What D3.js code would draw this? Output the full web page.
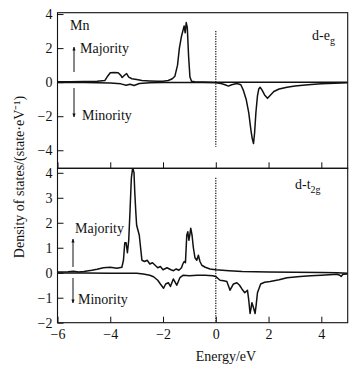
<!DOCTYPE html>
<html>
<head>
<meta charset="utf-8">
<script src="https://cdn.jsdelivr.net/npm/d3@7/dist/d3.min.js"></script>
<style>
  body { margin: 0; background: #fff; }
  svg text { font-family: "Liberation Serif", "Times New Roman", serif; fill: #111; }
</style>
</head>
<body>
<svg id="chart" width="354" height="375"></svg>
<script>
// d-eg, spin up
const egUpE = [-6, -5.5, -5, -4.5, -4.2, -4.1, -4.0, -3.85, -3.7, -3.6, -3.55, -3.45, -3.38, -3.3, -3.18, -3.0, -2.8, -2.5, -2.2, -2.0, -1.8, -1.65, -1.55, -1.45, -1.38, -1.3, -1.25, -1.2, -1.16, -1.12, -1.08, -1.03, -0.98, -0.92, -0.8, -0.5, 0, 1, 2, 3, 4, 5];
const egUpV = [0.02, 0.03, 0.04, 0.05, 0.1, 0.35, 0.55, 0.57, 0.55, 0.4, 0.27, 0.42, 0.5, 0.3, 0.2, 0.15, 0.1, 0.07, 0.05, 0.05, 0.1, 0.2, 0.35, 1.0, 2.0, 2.7, 3.0, 3.3, 2.9, 3.5, 3.2, 1.5, 0.3, 0.05, 0.02, 0.01, 0, 0, 0, 0, 0, 0];
// d-eg, spin down
const egDnE = [-6, -5, -4.5, -4, -3.6, -3.4, -3.25, -3.1, -2.9, -2.5, -2, -1.5, -1, -0.5, 0, 0.2, 0.35, 0.48, 0.6, 0.8, 0.95, 1.05, 1.15, 1.25, 1.33, 1.38, 1.43, 1.47, 1.52, 1.58, 1.63, 1.68, 1.75, 1.85, 1.96, 2.05, 2.2, 2.4, 2.7, 3.0, 3.5, 4.0, 4.5, 5];
const egDnV = [-0.02, -0.02, -0.03, -0.05, -0.1, -0.18, -0.12, -0.2, -0.08, -0.04, -0.02, -0.02, -0.02, -0.02, -0.03, -0.08, -0.15, -0.23, -0.15, -0.08, -0.15, -0.5, -1.0, -1.8, -2.8, -3.3, -3.6, -3.0, -1.8, -0.8, -0.4, -0.3, -0.45, -0.75, -0.95, -0.8, -0.55, -0.4, -0.3, -0.22, -0.15, -0.1, -0.06, -0.04];
// d-t2g, spin up
const t2gUpE = [-6, -5.6, -5.4, -5.2, -5.0, -4.7, -4.5, -4.26, -4.0, -3.75, -3.56, -3.5, -3.45, -3.4, -3.35, -3.3, -3.25, -3.2, -3.15, -3.1, -3.07, -3.03, -3.0, -2.95, -2.9, -2.85, -2.8, -2.7, -2.6, -2.5, -2.4, -2.3, -2.2, -2.1, -2.0, -1.85, -1.7, -1.6, -1.5, -1.4, -1.3, -1.25, -1.2, -1.15, -1.1, -1.06, -1.02, -0.98, -0.95, -0.9, -0.85, -0.79, -0.72, -0.66, -0.6, -0.53, -0.4, -0.22, 0, 0.5, 1, 2, 3, 4, 4.6, 5];
const t2gUpV = [0.03, 0.04, 0.06, 0.03, 0.05, 0.1, 0.14, 0.2, 0.22, 0.18, 0.22, 0.5, 1.2, 1.2, 0.8, 1.3, 2.5, 3.8, 4.2, 4.0, 3.2, 2.4, 1.9, 1.7, 1.5, 1.0, 0.5, 0.45, 0.5, 0.35, 0.4, 0.3, 0.2, 0.25, 0.12, 0.2, 0.12, 0.08, 0.15, 0.1, 0.2, 0.35, 0.45, 0.4, 1.5, 1.64, 1.3, 1.55, 1.78, 1.5, 1.0, 0.6, 0.5, 0.7, 0.45, 0.3, 0.22, 0.15, 0.12, 0.08, 0.05, 0.03, 0.02, 0.01, 0, -0.02];
// d-t2g, spin down
const t2gDnE = [-6, -5, -4, -3, -2.75, -2.5, -2.36, -2.2, -2.1, -1.98, -1.9, -1.8, -1.72, -1.61, -1.48, -1.36, -1.23, -1.0, -0.7, -0.4, -0.12, 0, 0.16, 0.3, 0.42, 0.54, 0.67, 0.8, 0.9, 0.99, 1.1, 1.2, 1.25, 1.3, 1.34, 1.37, 1.43, 1.49, 1.53, 1.58, 1.7, 1.85, 2.06, 2.4, 2.7, 3.2, 3.6, 4.0, 4.3, 4.6, 4.7, 4.75, 4.82, 5];
const t2gDnV = [-0.01, -0.01, -0.02, -0.02, -0.05, -0.1, -0.16, -0.3, -0.45, -0.62, -0.45, -0.4, -0.55, -0.25, -0.5, -0.2, -0.1, -0.12, -0.1, -0.1, -0.12, -0.15, -0.3, -0.32, -0.35, -0.7, -0.45, -0.4, -0.5, -0.65, -0.8, -0.7, -1.1, -1.63, -1.4, -1.2, -1.4, -1.63, -1.3, -0.8, -0.45, -0.38, -0.35, -0.28, -0.2, -0.15, -0.12, -0.1, -0.08, -0.06, -0.1, -0.15, -0.06, -0.05];

const xTicks = [-6, -4, -2, 0, 2, 4];
const egTicks = [-4, -2, 0, 2, 4];
const t2gTicks = [-2, -1, 0, 1, 2, 3, 4];

const svg = d3.select("#chart");
const x = d3.scaleLinear().domain([-6, 5]).range([57.5, 347.7]);
const fmt = d3.format("d");

const panels = [
	{ id: "eg", y: d3.scaleLinear().domain([-5.06, 4.08]).range([168.3, 12.7]), ticks: egTicks,
		up: [egUpE, egUpV], dn: [egDnE, egDnV], dotFrom: 3.0, dotTo: -3.8 },
	{ id: "t2g", y: d3.scaleLinear().domain([-2, 4.18]).range([322.7, 168.3]), ticks: t2gTicks,
		up: [t2gUpE, t2gUpV], dn: [t2gDnE, t2gDnV], dotFrom: 3.8, dotTo: -2 }
];

const fs = 14;

panels.forEach((p, i) => {
	const g = svg.append("g").attr("class", "panel-" + p.id);
	const [y0, y1] = p.y.range();

	g.append("clipPath").attr("id", "clip-" + p.id)
		.append("rect").attr("x", x.range()[0]).attr("y", y1)
		.attr("width", x.range()[1] - x.range()[0]).attr("height", y0 - y1);

	// frame
	g.append("rect")
		.attr("x", x.range()[0]).attr("y", y1)
		.attr("width", x.range()[1] - x.range()[0]).attr("height", y0 - y1)
		.attr("fill", "none").attr("stroke", "#111").attr("stroke-width", 1.1);

	// y axis
	const ya = g.append("g").attr("transform", `translate(${x.range()[0]},0)`)
		.call(d3.axisLeft(p.y).tickValues(p.ticks).tickFormat(fmt).tickSizeInner(-6).tickSizeOuter(0).tickPadding(5));
	ya.select(".domain").remove();
	ya.selectAll("line").attr("stroke", "#111");
	ya.selectAll("text").style("font-size", fs + "px");

	// x axis (ticks inward, labels only on bottom panel)
	const xa = g.append("g").attr("transform", `translate(0,${y0})`)
		.call(d3.axisBottom(x).tickValues(xTicks).tickFormat(fmt).tickSizeInner(-6).tickSizeOuter(0).tickPadding(6));
	xa.select(".domain").remove();
	xa.selectAll("line").attr("stroke", "#111");
	xa.selectAll("text").style("font-size", fs + "px");
	if (i === 0) xa.selectAll("text").remove();

	// Fermi level
	g.append("line")
		.attr("x1", x(0)).attr("x2", x(0))
		.attr("y1", p.y(p.dotFrom)).attr("y2", p.y(p.dotTo))
		.attr("stroke", "#111").attr("stroke-width", 1.2).attr("stroke-dasharray", "1.2,1.3");

	const line = d3.line().x(d => x(d[0])).y(d => p.y(d[1]));
	[p.up, p.dn].forEach(s => {
		g.append("path")
			.datum(d3.zip(s[0], s[1]))
			.attr("clip-path", `url(#clip-${p.id})`)
			.attr("d", line)
			.attr("fill", "none").attr("stroke", "#111")
			.attr("stroke-width", 1.5).attr("stroke-linejoin", "round");
	});
});

// arrows
svg.append("defs").append("marker")
	.attr("id", "ah").attr("viewBox", "0 0 10 10").attr("refX", 9).attr("refY", 5)
	.attr("markerWidth", 4).attr("markerHeight", 6).attr("orient", "auto")
	.append("path").attr("d", "M0,1 L10,5 L0,9 Z").attr("fill", "#111");

const arrows = [
	[74, 72, 74, 47], [74, 88, 74, 117],
	[73, 267, 73, 239], [73, 278, 73, 303]
];
arrows.forEach(a => {
	svg.append("line").attr("x1", a[0]).attr("y1", a[1]).attr("x2", a[2]).attr("y2", a[3])
		.attr("stroke", "#111").attr("stroke-width", 1).attr("marker-end", "url(#ah)");
});

const labels = [
	["Majority", 80, 53], ["Minority", 82, 120],
	["Majority", 75, 233], ["Minority", 78, 304]
];
labels.forEach(l => {
	svg.append("text").attr("x", l[1]).attr("y", l[2]).style("font-size", "14px").text(l[0]);
});

svg.append("text").attr("x", 70).attr("y", 30).style("font-size", "14px").text("Mn");

const deg = svg.append("text").attr("x", 312).attr("y", 40).style("font-size", "14px");
deg.append("tspan").text("d-e");
deg.append("tspan").attr("dy", 4).style("font-size", "10px").text("g");

const dt = svg.append("text").attr("x", 295).attr("y", 189).style("font-size", "14px");
dt.append("tspan").text("d-t");
dt.append("tspan").attr("dy", 4).style("font-size", "10px").text("2g");

// axis titles
svg.append("text")
	.attr("transform", "translate(24,177) rotate(-90)")
	.attr("text-anchor", "middle").style("font-size", "14px")
	.text("Density of states/(state\u00b7eV\u207b\u00b9)");

svg.append("text").attr("x", 226).attr("y", 361)
	.attr("text-anchor", "middle").style("font-size", "14px").text("Energy/eV");
</script>
</body>
</html>
